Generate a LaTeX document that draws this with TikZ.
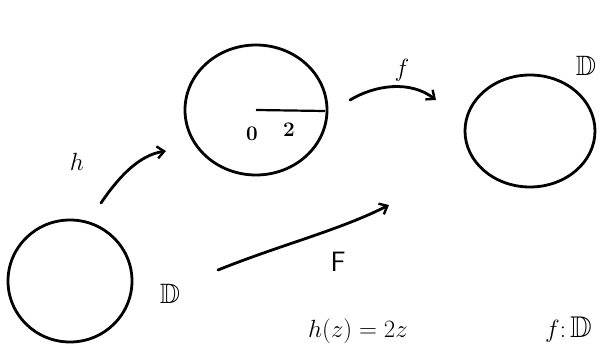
\documentclass[tikz,border=0pt]{standalone}
\usepackage{amssymb}
\usetikzlibrary{arrows.meta}
\begin{document}
\begin{tikzpicture}[x=1pt,y=-1pt,
  ink/.style={line width=2.8pt,line cap=round},
  maparrow/.style={ink,-{Straight Barb[length=7pt,width=12pt,line width=2.4pt]}},
  lbl/.style={inner sep=0pt,font=\fontsize{28}{28}\selectfont}]
\useasboundingbox (0,0) rectangle (603,345);
% circles
\draw[ink] (256,110) ellipse [x radius=71,y radius=65];
\draw[ink] (530,131) ellipse [x radius=65,y radius=56];
\draw[ink] (70,281) ellipse [x radius=62,y radius=61];
% segment inside middle circle
\coordinate (s0) at (256,110);
\coordinate (s2) at (325,111);
\draw[line width=2.2pt] (s0) -- (s2);
\node[lbl,font=\fontsize{22}{22}\selectfont] (zero) at (252,134) {$\mathbf{0}$};
\node[lbl,font=\fontsize{22}{22}\selectfont] (two) at (289,130) {$\mathbf{2}$};
% labels D
\node[lbl] (D1) at (170,294) {$\mathbb{D}$};
\node[lbl] (D2) at (586,66) {$\mathbb{D}$};
% arrows
\coordinate (ha) at (101,203);
\coordinate (hb) at (166,151);
\draw[maparrow] (ha) .. controls (120,175) and (140,155) .. (hb);
\node[lbl] (h) at (77,162) {$h$};
\coordinate (fa) at (350,100);
\coordinate (fb) at (436,100);
\draw[maparrow] (fa) .. controls (375,85) and (410,80) .. (fb);
\node[lbl] (f) at (402,70) {$f$};
\coordinate (Fa) at (218,270);
\coordinate (Fb) at (389,205);
\draw[maparrow] (Fa) .. controls (280,245) and (340,230) .. (Fb);
\node[lbl,font=\fontsize{28}{28}\sffamily\selectfont] (F) at (338,262) {F};
% formula
\node[anchor=base west,inner sep=0pt,font=\fontsize{32}{32}\selectfont] (eq) at (308,337) {$h(z)=2z$};
\node[anchor=base west,inner sep=0pt,font=\fontsize{30}{30}\selectfont] (fD) at (545,337) {$f\colon\mathbb{D}$};
\end{tikzpicture}
\end{document}
